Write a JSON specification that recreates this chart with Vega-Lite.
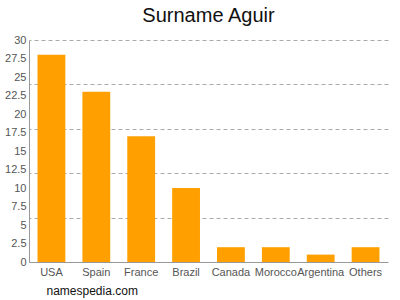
{
  "$schema": "https://vega.github.io/schema/vega-lite/v6.json",
  "width": 400,
  "height": 300,
  "autosize": {"type": "fit", "contains": "padding"},
  "padding": {"left": 4, "top": 6, "right": 12, "bottom": 4},
  "background": "white",
  "title": {"text": "Surname Aguir", "font": "Liberation Sans", "fontSize": 20, "fontWeight": "normal", "color": "#111", "offset": 8},
  "config": {"view": {"stroke": null}, "font": "Liberation Sans"},
  "data": {"values": [
    {"country": "USA", "count": 28},
    {"country": "Spain", "count": 23},
    {"country": "France", "count": 17},
    {"country": "Brazil", "count": 10},
    {"country": "Canada", "count": 2},
    {"country": "Morocco", "count": 2},
    {"country": "Argentina", "count": 1},
    {"country": "Others", "count": 2}
  ]},
  "encoding": {
    "x": {"field": "country", "type": "nominal", "sort": null,
      "scale": {"paddingInner": 0.38, "paddingOuter": 0.19},
      "axis": {"title": "namespedia.com", "titleFont": "Liberation Sans", "titleFontSize": 12, "titleFontWeight": "normal", "titleColor": "#111", "titleAnchor": "start", "titleAlign": "left", "titleX": 17, "titlePadding": 8,
        "labelAngle": 0, "labelFontSize": 11, "labelColor": "#555", "labelPadding": 4, "ticks": false, "domainColor": "#999", "labelOverlap": false}}
  },
  "layer": [
    {
      "mark": {"type": "bar", "color": "#ffa000"},
      "encoding": {
        "y": {"field": "count", "type": "quantitative", "scale": {"domain": [0, 30], "nice": false},
          "axis": {"title": null, "values": [0, 2.5, 5, 7.5, 10, 12.5, 15, 17.5, 20, 22.5, 25, 27.5, 30], "format": ".1~f", "grid": false, "ticks": false, "labelFontSize": 11, "labelColor": "#555", "labelPadding": 3, "domainColor": "#999"}}
      }
    },
    {
      "mark": {"type": "bar", "opacity": 0},
      "encoding": {
        "y": {"field": "count", "type": "quantitative",
          "axis": {"orient": "right", "title": null, "values": [6, 12, 18, 24, 30], "grid": true, "gridDash": [4, 3], "gridColor": "#aaa", "labels": false, "ticks": false, "domain": false}}
      }
    }
  ],
  "resolve": {"axis": {"y": "independent"}}
}
